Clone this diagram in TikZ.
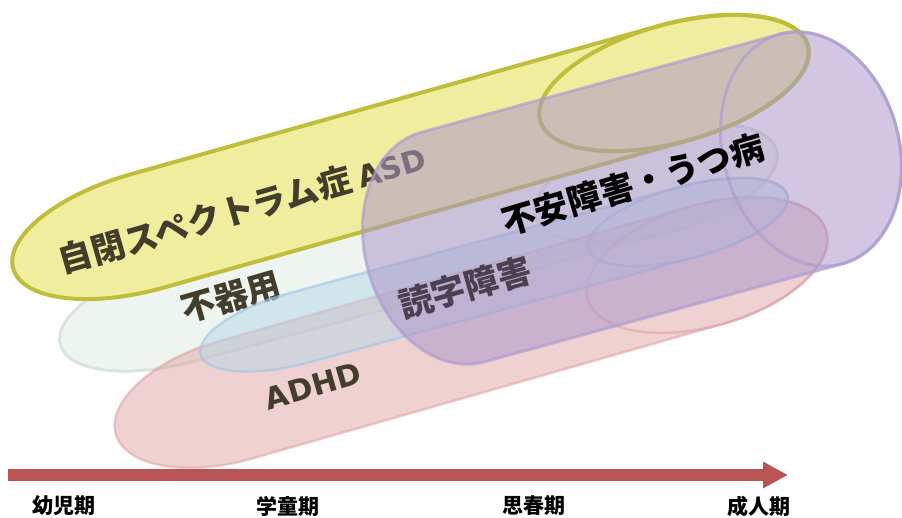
\documentclass[tikz,border=0pt]{standalone}
\usepackage{fontspec}
\newfontfamily\jp{Noto Sans CJK JP}
\newfontfamily\lat{DejaVu Sans}
\usetikzlibrary{arrows.meta}
\definecolor{yfill}{HTML}{F0EE9E}
\definecolor{yline}{HTML}{BFBD3A}
\definecolor{gfill}{HTML}{EEF5F1}
\definecolor{gline}{HTML}{DAE4DC}
\definecolor{pfill}{HTML}{DFA3A3}
\definecolor{pline}{HTML}{D99CA2}
\definecolor{bfill}{HTML}{B6D8E8}
\definecolor{bline}{HTML}{9EC4E6}
\definecolor{vfill}{HTML}{AD97CA}
\definecolor{vline}{HTML}{AE9DD0}
\definecolor{olive}{HTML}{433E2B}
\definecolor{dokuji}{HTML}{4A4050}
\definecolor{arrowred}{HTML}{B95455}
\newcommand\tube[6]{%
  \begin{scope}[shift={#1}, rotate=#2]
    \path[#6] (0,#5) arc[start angle=90,end angle=270,x radius=#4,y radius=#5]
      -- (#3,-#5) arc[start angle=-90,end angle=90,x radius=#4,y radius=#5] -- cycle;
    \path[#6, fill=none] (#3,0) ellipse[x radius=#4, y radius=#5];
  \end{scope}}
\tikzset{
  yellowtube/.style={fill=yfill, draw=yline, line width=4pt},
  greentube/.style={fill=gfill, draw=gline, line width=3pt},
  pinktube/.style={fill=pfill, fill opacity=0.5, draw=pline, draw opacity=0.5, line width=2.5pt},
  bluetube/.style={fill=bfill, fill opacity=0.5, draw=bline, draw opacity=0.6, line width=2.5pt},
  purpletube/.style={fill=vfill, fill opacity=0.55, draw=vline, draw opacity=0.7, line width=3pt},
  lab/.style={font=\jp\bfseries\fontsize{34}{38}\selectfont, text=olive, inner sep=0pt},
  age/.style={font=\jp\bfseries\fontsize{21}{24}\selectfont, text=black, inner sep=0pt}
}
\begin{document}
\begin{tikzpicture}[x=1pt,y=-1pt]
\useasboundingbox (0,0) rectangle (902,517);
% green (clumsiness)
\tube{(181,312)}{15.19}{492.2}{125}{51}{greentube}
\node[lab, rotate=16] (fukiyo) at (231,297) {不器用};
% yellow (ASD)
\tube{(147,231)}{15.69}{547.4}{139}{59}{yellowtube}
\node[lab, rotate=16] (asd) at (242,209) {自閉スペクトラム症 {\lat\bfseries\fontsize{30}{36}\selectfont ASD}};
% pink (ADHD)
\tube{(235,400)}{15.96}{490.9}{124}{61}{pinktube}
\node[lab, rotate=16, font=\lat\bfseries\fontsize{30}{36}\selectfont] (adhd) at (313,386) {ADHD};
% blue
\tube{(300,327.5)}{15.21}{402.1}{103}{36}{bluetube}
% purple
\tube{(453,247)}{15.31}{371.2}{88}{119}{purpletube}
\node[lab, rotate=16, text=dokuji] (dyslexia) at (465,287) {読字障害};
\node[lab, rotate=16.5, text=black, font=\jp\bfseries\fontsize{34}{38}\selectfont] (anx) at (633,184) {不安障害・うつ病};
% time axis
\coordinate (t0) at (8,475);
\coordinate (t1) at (788,475);
\draw[arrowred, line width=12pt, -{Triangle[length=25pt,width=25pt]}] (t0) -- (t1);
\node[age] (a1) at (63.5,506) {幼児期};
\node[age] (a2) at (287.5,506) {学童期};
\node[age] (a3) at (533.5,506) {思春期};
\node[age] (a4) at (758.5,506) {成人期};
\end{tikzpicture}
\end{document}
